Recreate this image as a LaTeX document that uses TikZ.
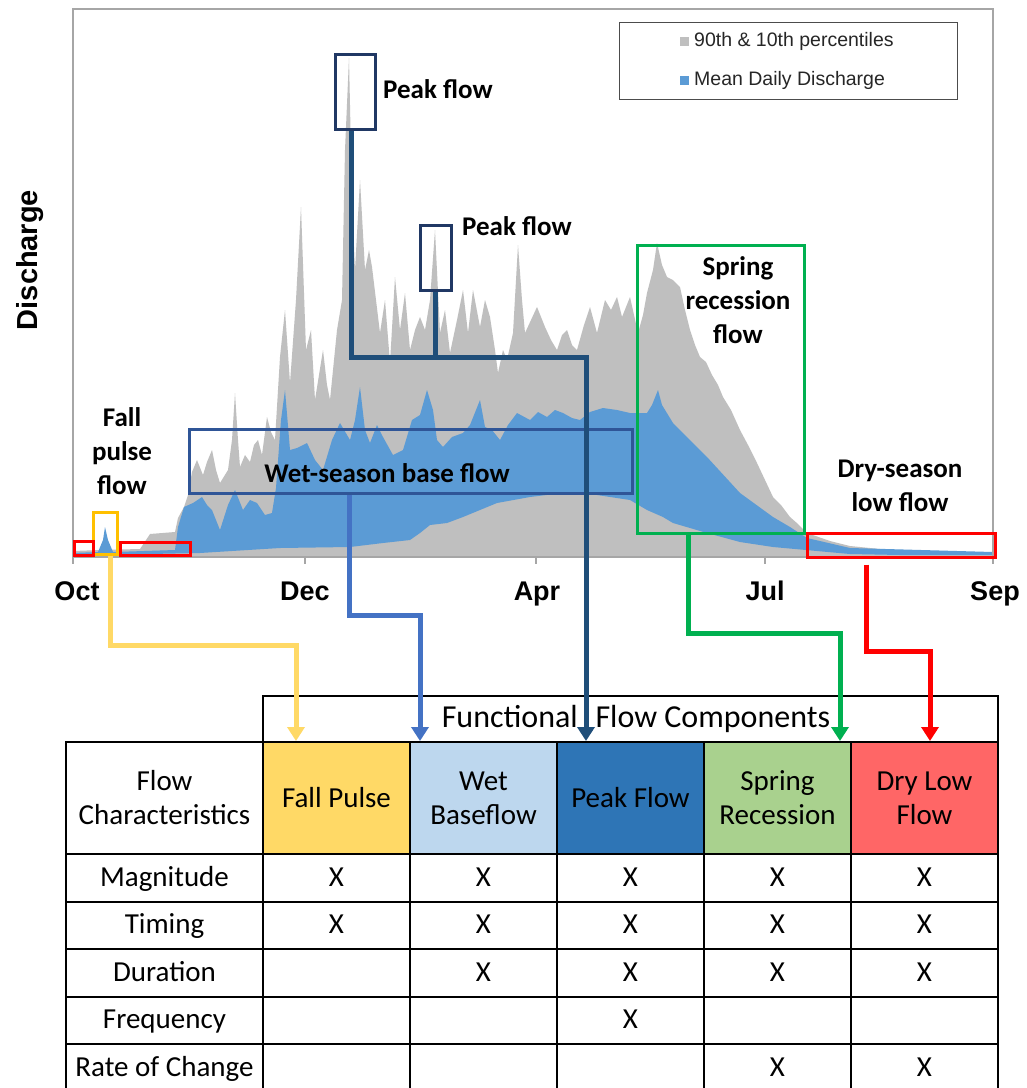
\documentclass[tikz,border=0pt]{standalone}
\usepackage{fontspec}
\setmainfont{Carlito}
\newfontfamily\arial{Liberation Sans}
\usetikzlibrary{arrows.meta,calc}
\definecolor{grayarea}{HTML}{BFBFBF}
\definecolor{bluearea}{HTML}{5B9BD5}
\definecolor{navybox}{HTML}{203864}
\definecolor{peakline}{HTML}{1F4E79}
\definecolor{wetbox}{HTML}{2F5597}
\definecolor{wetline}{HTML}{4472C4}
\definecolor{fallline}{HTML}{FFD966}
\definecolor{fallbox}{HTML}{FFC000}
\definecolor{greenc}{HTML}{00B050}
\definecolor{redc}{HTML}{FF0000}
\definecolor{cFall}{HTML}{FFD966}
\definecolor{cWet}{HTML}{BDD7EE}
\definecolor{cPeak}{HTML}{2E75B6}
\definecolor{cSpring}{HTML}{A9D18E}
\definecolor{cDry}{HTML}{FF6666}
\definecolor{framec}{HTML}{A6A6A6}
\begin{document}
\begin{tikzpicture}[x=1pt,y=-1pt,
  lbl/.style={font=\fontsize{27}{34}\selectfont\bfseries, align=center, inner sep=0pt},
  axl/.style={font=\arial\bfseries\fontsize{27}{30}\selectfont, inner sep=0pt, anchor=base},
  hbox/.style={draw, line width=3pt, inner sep=0pt},
  conn/.style={line width=5pt, -{Triangle[width=17pt,length=14pt]}},
  cellbox/.style={draw=black, line width=2pt, inner sep=0pt, align=center, font=\fontsize{29}{34}\selectfont},
  rowcell/.style={cellbox, minimum height=47.5pt, text height=21pt, text depth=4pt, anchor=north west},
]
\useasboundingbox (0,0) rectangle (1027,1088);
\fill[white] (0,0) rectangle (1027,1088);

% gray area (90th percentile)
\fill[grayarea] (73,557) -- (73,551) -- (100,550) -- (140,549) -- (146,540) -- (150,534) -- (175,532) -- (178,518) -- (184,507) -- (188,495) -- (192,472) -- (197,460) -- (203,475) -- (207,462) -- (212,450) -- (216,470) -- (220,483) -- (228,470) -- (232,440) -- (235,393) -- (238,440) -- (240,467) -- (245,455) -- (250,462) -- (254,445) -- (258,440) -- (262,455) -- (267,417) -- (271,432) -- (275,440) -- (280,357) -- (285,310) -- (290,383) -- (296,300) -- (301,207) -- (306,350) -- (311,330) -- (315,400) -- (323,350) -- (327,385) -- (330,400) -- (337,330) -- (342,300) -- (345,150) -- (349,58) -- (352,200) -- (355,270) -- (360,180) -- (365,270) -- (369,250) -- (372,267) -- (376,300) -- (380,333) -- (385,300) -- (390,363) -- (395,277) -- (400,330) -- (405,293) -- (410,350) -- (415,330) -- (420,317) -- (425,330) -- (430,300) -- (435,230) -- (440,333) -- (445,310) -- (450,353) -- (457,320) -- (463,290) -- (468,333) -- (473,290) -- (480,327) -- (485,300) -- (490,317) -- (495,350) -- (498,373) -- (503,350) -- (507,360) -- (513,333) -- (518,245) -- (522,300) -- (525,333) -- (531,320) -- (537,307) -- (545,327) -- (551,340) -- (557,350) -- (562,335) -- (567,330) -- (572,345) -- (577,350) -- (584,325) -- (590,307) -- (597,333) -- (605,300) -- (611,310) -- (617,297) -- (622,317) -- (630,297) -- (638,333) -- (643,315) -- (647,293) -- (653,270) -- (657,243) -- (662,265) -- (667,277) -- (673,280) -- (680,287) -- (685,310) -- (690,330) -- (695,345) -- (700,357) -- (706,362) -- (712,375) -- (718,385) -- (723,397) -- (731,410) -- (740,430) -- (748,445) -- (757,463) -- (765,480) -- (773,497) -- (781,505) -- (790,517) -- (798,524) -- (807,533) -- (830,541) -- (850,546) -- (900,551) -- (993,553) -- (993,557) -- cycle;

% blue area (mean daily discharge band)
\fill[bluearea] (73,553) -- (98,552) -- (103,540) -- (105,527) -- (108,540) -- (113,552) -- (175,550) -- (178,527) -- (184,507) -- (193,503) -- (202,497) -- (207,505) -- (212,510) -- (220,530) -- (228,505) -- (235,490) -- (243,510) -- (250,500) -- (257,503) -- (265,515) -- (272,513) -- (276,488) -- (281,420) -- (285,390) -- (290,450) -- (297,448) -- (307,443) -- (315,460) -- (323,470) -- (332,440) -- (340,423) -- (350,440) -- (355,420) -- (360,387) -- (365,430) -- (370,443) -- (377,425) -- (383,437) -- (393,455) -- (403,450) -- (412,420) -- (420,415) -- (427,390) -- (433,410) -- (437,440) -- (443,447) -- (452,437) -- (463,433) -- (470,425) -- (480,400) -- (485,427) -- (492,430) -- (500,440) -- (508,425) -- (517,413) -- (530,420) -- (538,412) -- (547,417) -- (555,410) -- (563,413) -- (572,418) -- (580,420) -- (590,412) -- (603,408) -- (617,410) -- (630,413) -- (647,413) -- (652,405) -- (658,390) -- (662,405) -- (673,423) -- (690,440) -- (707,457) -- (740,493) -- (773,517) -- (790,527) -- (807,538) -- (850,548) -- (993,552)
  -- (993,555) -- (900,555) -- (850,554) -- (773,547) -- (740,542) -- (707,533) -- (673,523) -- (663,517) -- (647,510) -- (630,500) -- (597,495) -- (563,493) -- (530,497) -- (497,503) -- (480,510) -- (463,517) -- (447,523) -- (430,525) -- (420,533) -- (410,540) -- (383,543) -- (350,547) -- (280,548) -- (200,553) -- (150,554) -- (73,555) -- cycle;

% frame, axis, ticks
\draw[framec, line width=1.5pt] (73,557) -- (73,9) -- (993,9) -- (993,557);
\draw[framec, line width=1.5pt] (73,557) -- (993,557);
\foreach \tx in {73,305,536,765,993} \draw[framec, line width=1.5pt] (\tx,557) -- (\tx,564);

\node[axl] (tOct) at (77,600) {Oct};
\node[axl] (tDec) at (305,600) {Dec};
\node[axl] (tApr) at (537,600) {Apr};
\node[axl] (tJul) at (765,600) {Jul};
\node[axl] (tSep) at (995,600) {Sep};
\node[font=\arial\bfseries\fontsize{29}{30}\selectfont, inner sep=0pt, rotate=90] (ylab) at (30,260) {Discharge};

% legend
\node[draw=black!70, line width=1pt, minimum width=338pt, minimum height=77pt, inner sep=0pt] (legend) at (788,60.5) {};
\fill[grayarea] (680,37) rectangle (689,46);
\fill[bluearea] (680,76) rectangle (689,85);
\node[anchor=west, font=\arial\fontsize{19.5}{22}\selectfont, inner sep=0pt, text=black!85] (leg1) at (694,41) {90th \& 10th percentiles};
\node[anchor=west, font=\arial\fontsize{19.5}{22}\selectfont, inner sep=0pt, text=black!85] (leg2) at (694,80) {Mean Daily Discharge};

% highlight boxes
\node[hbox, draw=navybox, minimum width=40pt, minimum height=75pt] (pk1) at (355,91.5) {};
\node[hbox, draw=navybox, minimum width=31pt, minimum height=65pt] (pk2) at (435.5,257.5) {};
\node[hbox, draw=wetbox, minimum width=443pt, minimum height=64pt] (wet) at (410.5,461) {};
\node[hbox, draw=fallbox, minimum width=24pt, minimum height=42pt] (fall) at (105,533) {};
\node[hbox, draw=redc, minimum width=19pt, minimum height=14pt] (red1) at (83.5,548) {};
\node[hbox, draw=redc, minimum width=70pt, minimum height=13pt] (red2) at (155,548.5) {};
\node[hbox, draw=redc, minimum width=188pt, minimum height=24pt] (red3) at (901,545) {};
\node[hbox, draw=greenc, minimum width=167pt, minimum height=288pt] (spring) at (720.5,389) {};

% chart labels
\node[lbl, anchor=west] (pkl1) at (383,89) {Peak flow};
\node[lbl, anchor=west] (pkl2) at (462,226) {Peak flow};
\node[lbl] (wetl) at (387,473) {Wet-season base flow};
\node[lbl] (falll) at (122,451) {Fall\\pulse\\flow};
\node[lbl] (springl) at (738,300) {Spring\\recession\\flow};
\node[lbl] (dryl) at (900,486) {Dry-season\\low flow};

% table
\node[draw=black, line width=2pt, minimum width=735pt, minimum height=46pt, inner sep=0pt, anchor=north west] (fh) at (262,695) {};
\node[font=\fontsize{32}{34}\selectfont, inner sep=0pt] (fhtext) at (636,719) {Functional\;\;Flow Components};

\node[cellbox, fill=white, minimum width=197pt, minimum height=112pt, anchor=north west] (h0) at (65,741) {Flow\\Characteristics};
\node[cellbox, fill=cFall, minimum width=147pt, minimum height=112pt, anchor=north west] (h1) at (262,741) {Fall Pulse};
\node[cellbox, fill=cWet, minimum width=147pt, minimum height=112pt, anchor=north west] (h2) at (409,741) {Wet\\Baseflow};
\node[cellbox, fill=cPeak, minimum width=147pt, minimum height=112pt, anchor=north west] (h3) at (556,741) {Peak Flow};
\node[cellbox, fill=cSpring, minimum width=147pt, minimum height=112pt, anchor=north west] (h4) at (703,741) {Spring\\Recession};
\node[cellbox, fill=cDry, minimum width=147pt, minimum height=112pt, anchor=north west] (h5) at (850,741) {Dry Low\\Flow};

\foreach \r/\lab/\ma/\mb/\mc/\md/\me [count=\i] in {
  853/Magnitude/X/X/X/X/X,
  900.5/Timing/X/X/X/X/X,
  948/Duration//X/X/X/X,
  995.5/Frequency///X//,
  1043/Rate of Change////X/X} {
  \node[rowcell, minimum width=197pt] (r\i c0) at (65,\r) {\lab};
  \node[rowcell, minimum width=147pt] (r\i c1) at (262,\r) {\ma};
  \node[rowcell, minimum width=147pt] (r\i c2) at (409,\r) {\mb};
  \node[rowcell, minimum width=147pt] (r\i c3) at (556,\r) {\mc};
  \node[rowcell, minimum width=147pt] (r\i c4) at (703,\r) {\md};
  \node[rowcell, minimum width=147pt] (r\i c5) at (850,\r) {\me};
}

% connectors
\coordinate (fallin) at ($(h1.north west)+(34,0)$);
\coordinate (wetin) at ($(h2.north west)+(11,0)$);
\coordinate (peakin) at ($(h3.north west)+(30,0)$);
\coordinate (springin) at ($(h4.north west)+(137,0)$);
\coordinate (dryin) at ($(h5.north west)+(80,0)$);

\draw[conn, fallline] ($(fall.south)+(5,0)$) |- (fallin |- 0,645) -- (fallin);
\draw[conn, wetline] ($(wet.south west)+(162,0)$) |- (wetin |- 0,615) -- (wetin);
\draw[line width=5pt, peakline] (pk2.south) -- (pk2.south |- 0,357);
\draw[conn, peakline] ($(pk1.south)+(-4,0)$) |- (peakin |- 0,357) -- (peakin);
\draw[conn, greenc] ($(spring.south west)+(53,0)$) |- (springin |- 0,633) -- (springin);
\draw[conn, redc] ($(red3.south west)+(61,6)$) |- (dryin |- 0,651) -- (dryin);
\end{tikzpicture}
\end{document}
